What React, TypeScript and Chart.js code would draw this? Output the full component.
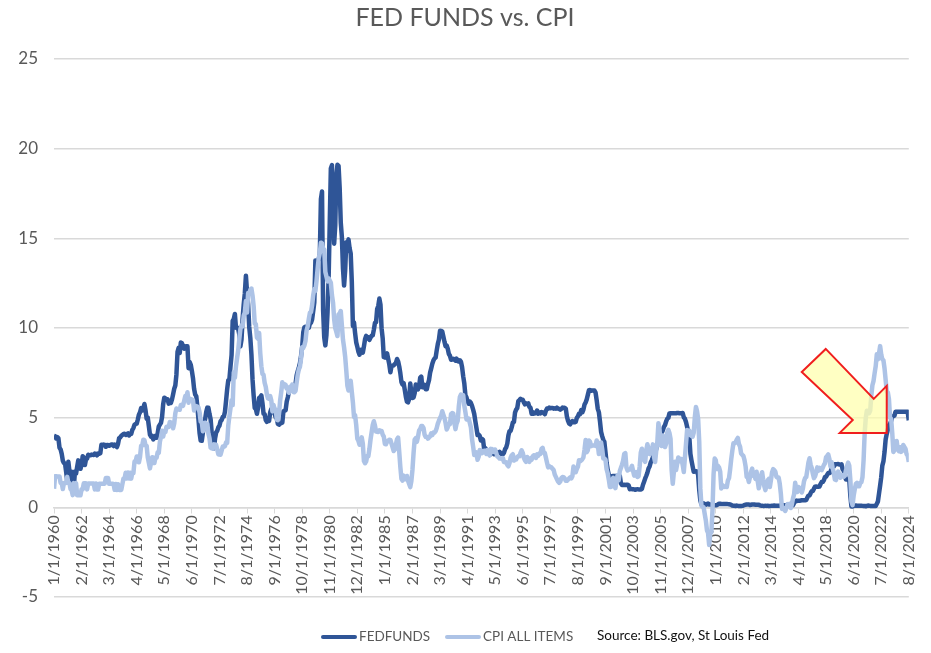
import React, { useEffect, useRef } from 'react';
import { Chart, registerables } from 'chart.js';

Chart.register(...registerables);

const TITLE = 'FED FUNDS vs. CPI';
const SERIES_NAMES = ['FEDFUNDS', 'CPI ALL ITEMS'];
const SOURCE_NOTE = 'Source: BLS.gov, St Louis Fed';
const START_YEAR = 1960;
const LABEL_EVERY_MONTHS = 25;
const Y_MIN = -5;
const Y_MAX = 25;
const Y_STEP = 5;

// Monthly effective fed funds rate, Jan 1960 .. Aug 2024 (one row per year)
const FEDFUNDS: number[] = [
  3.99, 3.97, 3.84, 3.92, 3.85, 3.32, 3.23, 2.98, 2.6, 2.47, 2.44, 1.98,
  1.45, 2.54, 2.02, 1.49, 1.98, 1.73, 1.17, 2.0, 1.88, 2.26, 2.62, 2.33,
  2.15, 2.37, 2.85, 2.78, 2.36, 2.68, 2.71, 2.93, 2.9, 2.9, 2.94, 2.93,
  2.92, 3.0, 2.98, 2.9, 3.0, 2.99, 3.02, 3.49, 3.48, 3.5, 3.48, 3.38,
  3.48, 3.48, 3.43, 3.47, 3.5, 3.5, 3.42, 3.5, 3.45, 3.36, 3.52, 3.85,
  3.9, 3.98, 4.04, 4.09, 4.1, 4.04, 4.09, 4.12, 4.01, 4.08, 4.1, 4.32,
  4.42, 4.6, 4.65, 4.67, 4.9, 5.17, 5.3, 5.53, 5.4, 5.53, 5.76, 5.4,
  4.94, 5.0, 4.53, 4.05, 3.94, 3.98, 3.79, 3.9, 3.99, 3.88, 4.13, 4.51,
  4.61, 4.71, 5.05, 5.76, 6.11, 6.07, 6.02, 6.03, 5.78, 5.91, 5.82, 6.02,
  6.3, 6.61, 6.79, 7.41, 8.67, 8.9, 8.61, 9.19, 9.15, 9.0, 8.85, 8.97,
  8.98, 8.98, 7.76, 8.1, 7.95, 7.61, 7.21, 6.61, 6.29, 6.2, 5.6, 4.9,
  4.14, 3.72, 3.71, 4.16, 4.63, 4.91, 5.31, 5.56, 5.55, 5.2, 4.91, 4.14,
  3.5, 3.29, 3.83, 4.17, 4.27, 4.46, 4.55, 4.8, 4.87, 5.04, 5.06, 5.33,
  5.94, 6.58, 7.09, 7.12, 7.84, 8.49, 10.4, 10.5, 10.78, 10.01, 10.03, 9.95,
  9.65, 8.97, 9.35, 10.51, 11.31, 11.93, 12.92, 12.01, 11.34, 10.06, 9.45, 8.53,
  7.13, 6.24, 5.54, 5.49, 5.22, 5.55, 6.1, 6.14, 6.24, 5.82, 5.22, 5.2,
  4.87, 4.77, 4.84, 4.82, 5.29, 5.48, 5.31, 5.29, 5.25, 5.02, 4.95, 4.65,
  4.61, 4.68, 4.69, 4.73, 5.35, 5.39, 5.42, 5.9, 6.14, 6.47, 6.51, 6.56,
  6.7, 6.78, 6.79, 6.89, 7.36, 7.6, 7.81, 8.04, 8.45, 8.96, 9.76, 10.03,
  10.07, 10.06, 10.09, 10.01, 10.24, 10.29, 10.47, 10.94, 11.43, 13.77, 13.18, 13.78,
  13.82, 14.13, 17.19, 17.61, 10.98, 9.47, 9.03, 9.61, 10.87, 12.81, 15.85, 18.9,
  19.08, 15.93, 14.7, 15.72, 18.52, 19.1, 19.04, 17.82, 15.87, 15.08, 13.31, 12.37,
  13.22, 14.78, 14.68, 14.94, 14.45, 14.15, 12.59, 10.12, 10.31, 9.71, 9.2, 8.95,
  8.68, 8.51, 8.77, 8.8, 8.63, 8.98, 9.37, 9.56, 9.45, 9.48, 9.34, 9.47,
  9.56, 9.59, 9.91, 10.29, 10.32, 11.06, 11.23, 11.64, 11.3, 9.99, 9.43, 8.38,
  8.35, 8.5, 8.58, 8.27, 7.97, 7.53, 7.88, 7.9, 7.92, 7.99, 8.05, 8.27,
  8.14, 7.86, 7.48, 6.99, 6.85, 6.92, 6.56, 6.17, 5.89, 5.85, 6.04, 6.91,
  6.43, 6.1, 6.13, 6.37, 6.85, 6.73, 6.58, 6.73, 7.22, 7.29, 6.69, 6.77,
  6.83, 6.58, 6.58, 6.87, 7.09, 7.51, 7.75, 8.01, 8.19, 8.3, 8.35, 8.76,
  9.12, 9.36, 9.85, 9.84, 9.81, 9.53, 9.24, 8.99, 9.02, 8.84, 8.55, 8.45,
  8.23, 8.24, 8.28, 8.26, 8.18, 8.29, 8.15, 8.13, 8.2, 8.11, 7.81, 7.31,
  6.91, 6.25, 6.12, 5.91, 5.78, 5.9, 5.82, 5.66, 5.45, 5.21, 4.81, 4.43,
  4.03, 4.06, 3.98, 3.73, 3.82, 3.76, 3.25, 3.3, 3.22, 3.1, 3.09, 2.92,
  3.02, 3.03, 3.07, 2.96, 3.0, 3.04, 3.06, 3.03, 3.09, 2.99, 3.02, 2.96,
  3.05, 3.25, 3.34, 3.56, 4.01, 4.25, 4.26, 4.47, 4.73, 4.76, 5.29, 5.45,
  5.53, 5.92, 5.98, 6.05, 6.01, 6.0, 5.85, 5.74, 5.8, 5.76, 5.8, 5.6,
  5.56, 5.22, 5.31, 5.22, 5.24, 5.27, 5.4, 5.22, 5.3, 5.24, 5.31, 5.29,
  5.25, 5.19, 5.39, 5.51, 5.5, 5.56, 5.52, 5.54, 5.54, 5.5, 5.52, 5.5,
  5.56, 5.51, 5.49, 5.45, 5.49, 5.56, 5.54, 5.55, 5.51, 5.07, 4.83, 4.68,
  4.63, 4.76, 4.81, 4.74, 4.74, 4.76, 4.99, 5.07, 5.22, 5.2, 5.42, 5.3,
  5.45, 5.73, 5.85, 6.02, 6.27, 6.53, 6.54, 6.5, 6.52, 6.51, 6.51, 6.4,
  5.98, 5.49, 5.31, 4.8, 4.21, 3.97, 3.77, 3.65, 3.07, 2.49, 2.09, 1.82,
  1.73, 1.74, 1.73, 1.75, 1.75, 1.75, 1.73, 1.74, 1.75, 1.75, 1.34, 1.24,
  1.24, 1.26, 1.25, 1.26, 1.26, 1.22, 1.01, 1.03, 1.01, 1.01, 1.0, 0.98,
  1.0, 1.01, 1.0, 1.0, 1.0, 1.03, 1.26, 1.43, 1.61, 1.76, 1.93, 2.16,
  2.28, 2.5, 2.63, 2.79, 3.0, 3.04, 3.26, 3.5, 3.62, 3.78, 4.0, 4.16,
  4.29, 4.49, 4.59, 4.79, 4.94, 4.99, 5.24, 5.25, 5.25, 5.25, 5.25, 5.24,
  5.25, 5.26, 5.26, 5.25, 5.25, 5.25, 5.26, 5.02, 4.94, 4.76, 4.49, 4.24,
  3.94, 2.98, 2.61, 2.28, 1.98, 2.0, 2.01, 2.0, 1.81, 0.97, 0.39, 0.16,
  0.15, 0.22, 0.18, 0.15, 0.18, 0.21, 0.16, 0.16, 0.15, 0.12, 0.12, 0.12,
  0.11, 0.13, 0.16, 0.2, 0.2, 0.18, 0.18, 0.19, 0.19, 0.19, 0.19, 0.18,
  0.17, 0.16, 0.14, 0.1, 0.09, 0.09, 0.07, 0.1, 0.08, 0.07, 0.08, 0.07,
  0.08, 0.1, 0.13, 0.14, 0.16, 0.16, 0.16, 0.13, 0.14, 0.16, 0.16, 0.16,
  0.14, 0.15, 0.14, 0.15, 0.11, 0.09, 0.09, 0.08, 0.08, 0.09, 0.08, 0.09,
  0.07, 0.07, 0.08, 0.09, 0.09, 0.1, 0.09, 0.09, 0.09, 0.09, 0.09, 0.12,
  0.11, 0.11, 0.11, 0.12, 0.12, 0.13, 0.13, 0.14, 0.14, 0.12, 0.12, 0.24,
  0.34, 0.38, 0.36, 0.37, 0.37, 0.38, 0.39, 0.4, 0.4, 0.4, 0.41, 0.54,
  0.65, 0.66, 0.79, 0.9, 0.91, 1.04, 1.15, 1.16, 1.15, 1.15, 1.16, 1.3,
  1.41, 1.42, 1.51, 1.69, 1.7, 1.82, 1.91, 1.91, 1.95, 2.19, 2.2, 2.27,
  2.4, 2.4, 2.41, 2.42, 2.39, 2.38, 2.4, 2.13, 2.04, 1.83, 1.55, 1.55,
  1.55, 1.58, 0.65, 0.05, 0.05, 0.08, 0.09, 0.1, 0.09, 0.09, 0.09, 0.09,
  0.09, 0.08, 0.07, 0.07, 0.06, 0.08, 0.1, 0.09, 0.08, 0.08, 0.08, 0.08,
  0.08, 0.08, 0.2, 0.33, 0.77, 1.21, 1.68, 2.33, 2.56, 3.08, 3.78, 4.1,
  4.33, 4.57, 4.65, 4.83, 5.06, 5.08, 5.12, 5.33, 5.33, 5.33, 5.33, 5.33,
  5.33, 5.33, 5.33, 5.33, 5.33, 5.33, 5.33, 4.85,
];

// Monthly CPI all items, % change from a year earlier, Jan 1960 .. Aug 2024
const CPI_ALL_ITEMS: number[] = [
  1.03, 1.73, 1.73, 1.72, 1.72, 1.72, 1.37, 1.37, 1.02, 1.36, 1.36, 1.36,
  1.7, 1.36, 1.36, 1.02, 0.95, 0.68, 1.35, 1.01, 1.35, 0.67, 0.67, 0.67,
  0.67, 1.01, 1.01, 1.34, 1.34, 1.34, 1.0, 1.33, 1.33, 1.33, 1.33, 1.33,
  1.33, 1.0, 1.33, 0.99, 0.99, 1.32, 1.32, 1.32, 1.32, 1.32, 1.32, 1.64,
  1.64, 1.64, 1.31, 1.31, 1.31, 1.31, 1.3, 0.98, 1.3, 0.97, 1.29, 0.97,
  0.97, 0.97, 1.29, 1.61, 1.61, 1.93, 1.61, 1.94, 1.61, 1.93, 1.6, 1.92,
  1.91, 2.55, 2.54, 2.84, 2.83, 2.51, 2.82, 3.44, 3.45, 3.77, 3.75, 3.45,
  3.43, 2.79, 2.48, 2.17, 2.49, 2.79, 2.78, 2.47, 2.77, 2.76, 3.07, 3.04,
  3.65, 3.94, 4.27, 3.95, 4.24, 4.2, 4.49, 4.49, 4.48, 4.76, 4.73, 4.72,
  4.41, 4.67, 5.25, 5.51, 5.47, 5.46, 5.44, 5.71, 5.7, 5.66, 5.93, 6.2,
  6.16, 6.42, 5.83, 6.06, 6.04, 6.01, 5.98, 5.4, 5.66, 5.64, 5.62, 5.57,
  5.29, 4.78, 4.75, 4.24, 4.49, 4.72, 4.42, 4.66, 4.11, 3.85, 3.33, 3.29,
  3.27, 3.51, 3.5, 3.48, 3.23, 2.96, 2.94, 2.93, 3.16, 3.39, 3.38, 3.41,
  3.62, 3.6, 4.56, 5.06, 5.51, 5.97, 5.7, 7.53, 7.23, 7.87, 8.32, 8.75,
  9.39, 9.94, 10.15, 10.09, 10.7, 10.86, 11.51, 10.86, 11.95, 11.93, 12.13, 12.2,
  11.81, 11.23, 10.25, 10.21, 9.47, 9.4, 9.72, 8.6, 7.87, 7.44, 7.38, 6.94,
  6.72, 6.29, 6.07, 6.05, 6.2, 5.97, 5.35, 5.71, 5.49, 5.46, 4.88, 4.86,
  5.21, 5.95, 6.42, 6.97, 6.75, 6.87, 6.83, 6.62, 6.6, 6.39, 6.72, 6.7,
  6.84, 6.43, 6.42, 6.5, 6.97, 7.41, 7.7, 7.84, 8.31, 8.93, 8.89, 9.02,
  9.28, 9.86, 10.09, 10.49, 10.85, 10.89, 11.26, 11.82, 12.18, 12.07, 12.62, 13.29,
  13.91, 14.18, 14.76, 14.73, 14.41, 14.38, 13.13, 12.87, 12.6, 12.77, 12.65, 12.52,
  11.83, 11.41, 10.49, 9.99, 9.78, 9.55, 10.76, 10.8, 10.95, 10.14, 9.35, 8.92,
  8.39, 7.62, 6.78, 6.51, 6.68, 7.06, 6.44, 5.85, 5.04, 5.14, 4.59, 3.83,
  3.71, 3.49, 3.6, 3.9, 3.55, 2.58, 2.46, 2.56, 2.86, 2.85, 3.27, 3.79,
  4.19, 4.6, 4.8, 4.56, 4.23, 4.22, 4.2, 4.29, 4.27, 4.26, 4.05, 3.95,
  3.53, 3.52, 3.7, 3.69, 3.77, 3.76, 3.55, 3.35, 3.14, 3.23, 3.51, 3.8,
  3.89, 3.11, 2.26, 1.59, 1.49, 1.77, 1.58, 1.57, 1.75, 1.48, 1.3, 1.13,
  1.46, 2.1, 3.03, 3.78, 3.86, 3.65, 3.93, 4.28, 4.37, 4.53, 4.53, 4.43,
  4.05, 3.93, 3.93, 3.83, 3.9, 3.96, 4.13, 4.03, 4.17, 4.17, 4.25, 4.42,
  4.67, 4.83, 4.98, 5.11, 5.36, 5.17, 4.98, 4.71, 4.34, 4.47, 4.66, 4.64,
  5.2, 5.26, 5.23, 4.71, 4.36, 4.67, 4.82, 5.62, 6.16, 6.29, 6.27, 6.25,
  5.67, 5.31, 4.9, 4.89, 4.95, 4.7, 4.45, 3.8, 3.39, 2.92, 2.99, 3.06,
  2.65, 2.82, 3.19, 3.18, 3.02, 3.09, 3.15, 3.15, 2.98, 3.2, 3.05, 2.9,
  3.26, 3.25, 3.09, 3.21, 3.22, 3.02, 2.83, 2.8, 2.72, 2.74, 2.69, 2.75,
  2.52, 2.51, 2.51, 2.36, 2.29, 2.47, 2.77, 2.9, 2.96, 2.61, 2.67, 2.67,
  2.8, 2.86, 2.85, 3.05, 3.18, 3.04, 2.76, 2.62, 2.54, 2.81, 2.61, 2.54,
  2.73, 2.65, 2.84, 2.9, 2.89, 2.75, 2.95, 2.88, 3.0, 2.98, 3.26, 3.32,
  3.04, 3.03, 2.76, 2.49, 2.23, 2.3, 2.23, 2.23, 2.15, 2.08, 1.83, 1.7,
  1.57, 1.44, 1.37, 1.44, 1.63, 1.69, 1.68, 1.62, 1.48, 1.48, 1.54, 1.61,
  1.67, 1.61, 1.73, 2.28, 2.09, 1.96, 2.14, 2.26, 2.63, 2.56, 2.62, 2.68,
  2.79, 3.22, 3.76, 3.07, 3.19, 3.73, 3.66, 3.41, 3.45, 3.45, 3.45, 3.43,
  3.73, 3.53, 2.98, 3.22, 3.62, 3.25, 2.72, 2.72, 2.65, 2.13, 1.9, 1.55,
  1.14, 1.14, 1.48, 1.64, 1.18, 1.07, 1.46, 1.8, 1.51, 2.03, 2.2, 2.38,
  2.6, 2.98, 3.02, 2.22, 2.06, 2.11, 2.11, 2.16, 2.32, 2.04, 1.77, 1.88,
  1.97, 1.69, 1.74, 2.29, 3.05, 3.27, 2.99, 2.65, 2.54, 3.19, 3.52, 3.26,
  2.97, 3.01, 3.15, 3.51, 2.8, 2.53, 3.14, 3.64, 4.69, 4.35, 3.46, 3.42,
  4.0, 3.6, 3.36, 3.55, 4.17, 4.32, 4.15, 3.82, 2.06, 1.31, 1.97, 2.54,
  2.08, 2.42, 2.78, 2.57, 2.69, 2.69, 2.36, 1.97, 2.76, 3.54, 4.31, 4.08,
  4.28, 4.03, 3.98, 3.94, 4.17, 5.02, 5.6, 5.37, 4.94, 3.66, 1.07, 0.09,
  0.03, 0.0, -0.38, -0.74, -1.28, -1.43, -2.1, -1.48, -1.38, -0.18, 1.84, 2.72,
  2.63, 2.14, 2.31, 2.22, 1.99, 1.05, 1.24, 1.15, 1.14, 1.17, 1.14, 1.5,
  1.63, 2.11, 2.68, 3.16, 3.57, 3.56, 3.63, 3.77, 3.87, 3.53, 3.39, 3.0,
  2.93, 2.87, 2.65, 2.3, 1.7, 1.66, 1.41, 1.69, 1.99, 2.16, 1.76, 1.74,
  1.59, 1.98, 1.47, 1.06, 1.36, 1.75, 1.96, 1.52, 1.18, 0.96, 1.24, 1.5,
  1.58, 1.13, 1.51, 1.95, 2.13, 2.07, 1.99, 1.7, 1.66, 1.66, 1.32, 0.76,
  -0.09, -0.03, -0.07, -0.2, -0.04, 0.18, 0.17, 0.2, -0.04, 0.17, 0.5, 0.73,
  1.37, 1.02, 0.86, 1.13, 1.02, 1.07, 0.83, 1.06, 1.46, 1.64, 1.69, 2.07,
  2.5, 2.74, 2.38, 2.2, 1.87, 1.63, 1.73, 1.94, 2.23, 2.04, 2.2, 2.11,
  2.07, 2.21, 2.36, 2.46, 2.8, 2.87, 2.95, 2.7, 2.28, 2.52, 2.18, 1.91,
  1.55, 1.52, 1.86, 2.0, 1.79, 1.65, 1.81, 1.75, 1.71, 1.76, 2.05, 2.29,
  2.49, 2.33, 1.54, 0.33, 0.12, 0.65, 1.0, 1.31, 1.37, 1.18, 1.17, 1.36,
  1.4, 1.68, 2.62, 4.16, 4.99, 5.39, 5.37, 5.25, 5.39, 6.22, 6.81, 7.04,
  7.48, 7.87, 8.54, 8.26, 8.58, 8.99, 8.52, 8.26, 8.2, 7.75, 7.11, 6.45,
  6.41, 6.04, 4.99, 4.93, 4.13, 3.09, 3.18, 3.67, 3.7, 3.24, 3.14, 3.35,
  3.09, 3.15, 3.48, 3.36, 3.27, 2.97, 2.89, 2.53,
];

// Callout arrow: tip anchored at this month index / value
const ARROW_TIP_MONTH = 755;
const ARROW_TIP_VALUE = 4.15;

const MONTH_LABELS: string[] = FEDFUNDS.map((_, i) => {
  const year = START_YEAR + Math.floor(i / 12);
  const month = (i % 12) + 1;
  return `${month}/1/${year}`;
});

const FF_COLOR = '#2F5597';
const CPI_COLOR = '#ADC3E6';
const GRID_COLOR = '#D9D9D9';
const TEXT_COLOR = '#595959';
const FONT = 'Lato, "Open Sans", sans-serif';

const decorPlugin = {
  id: 'decor',
  afterDatasetsDraw(chart: any) {
    const { ctx } = chart;
    const xs = chart.scales.x;
    const ys = chart.scales.y;
    const tx = xs.getPixelForValue(ARROW_TIP_MONTH);
    const ty = ys.getPixelForValue(ARROW_TIP_VALUE);
    const pts = [
      [-61, -84],
      [-13, -34],
      [0, -47],
      [0, 0],
      [-47, 0],
      [-34, -13],
      [-85, -61],
    ];
    ctx.save();
    ctx.beginPath();
    pts.forEach(([dx, dy], i) => {
      if (i === 0) ctx.moveTo(tx + dx, ty + dy);
      else ctx.lineTo(tx + dx, ty + dy);
    });
    ctx.closePath();
    ctx.fillStyle = 'rgba(255, 255, 170, 0.7)';
    ctx.fill();
    ctx.strokeStyle = '#F01E1E';
    ctx.lineWidth = 2;
    ctx.lineJoin = 'miter';
    ctx.stroke();
    ctx.restore();
  },
  afterDraw(chart: any) {
    const { ctx } = chart;
    ctx.save();
    // title
    ctx.fillStyle = TEXT_COLOR;
    ctx.font = `25px ${FONT}`;
    ctx.textAlign = 'center';
    ctx.textBaseline = 'middle';
    ctx.fillText(TITLE, 465, 18);

    // legend
    const ly = 637;
    const sampleStarts = [321, 445];
    ctx.textAlign = 'left';
    ctx.font = `13.5px ${FONT}`;
    chart.data.datasets.forEach((ds: any, i: number) => {
      const x = sampleStarts[i];
      ctx.strokeStyle = ds.borderColor;
      ctx.lineWidth = 4;
      ctx.lineCap = 'round';
      ctx.beginPath();
      ctx.moveTo(x + 2, ly);
      ctx.lineTo(x + 34, ly);
      ctx.stroke();
      ctx.fillStyle = TEXT_COLOR;
      ctx.fillText(ds.label, x + 38, ly);
    });
    ctx.fillStyle = '#111111';
    ctx.font = `13.5px ${FONT}`;
    ctx.fillText(SOURCE_NOTE, 597, ly - 1);
    ctx.restore();
  },
};

export default function App() {
  const canvasRef = useRef<HTMLCanvasElement>(null);

  useEffect(() => {
    const canvas = canvasRef.current;
    if (!canvas) return;
    const chart = new Chart(canvas, {
      type: 'line',
      data: {
        datasets: [
          {
            label: SERIES_NAMES[0],
            data: FEDFUNDS.map((v, i) => ({ x: i, y: v })),
            borderColor: FF_COLOR,
            backgroundColor: FF_COLOR,
            borderWidth: 4.5,
            pointRadius: 0,
            tension: 0,
            order: 1,
            borderJoinStyle: 'round',
          },
          {
            label: SERIES_NAMES[1],
            data: CPI_ALL_ITEMS.map((v, i) => ({ x: i, y: v })),
            borderColor: CPI_COLOR,
            backgroundColor: CPI_COLOR,
            borderWidth: 4.5,
            pointRadius: 0,
            tension: 0,
            order: 0,
            borderJoinStyle: 'round',
          },
        ],
      },
      options: {
        responsive: false,
        animation: false,
        events: [],
        layout: { padding: { top: 59, bottom: 56, left: 0, right: 15 } },
        plugins: {
          legend: { display: false },
          title: { display: false },
          tooltip: { enabled: false },
        },
        scales: {
          x: {
            type: 'linear',
            min: 0,
            max: FEDFUNDS.length - 1,
            position: { y: 0 },
            grid: {
              drawOnChartArea: false,
              drawTicks: true,
              tickLength: 5,
              color: GRID_COLOR,
            },
            border: { display: true, color: GRID_COLOR, width: 1.5 },
            ticks: {
              stepSize: LABEL_EVERY_MONTHS,
              autoSkip: false,
              minRotation: 90,
              maxRotation: 90,
              padding: 3,
              color: TEXT_COLOR,
              font: { family: FONT, size: 16 },
              callback: (v: any) => MONTH_LABELS[Math.round(Number(v))] ?? '',
            },
          },
          y: {
            min: Y_MIN,
            max: Y_MAX,
            grid: { color: GRID_COLOR, drawTicks: false, lineWidth: 1.5 },
            border: { display: false },
            ticks: {
              stepSize: Y_STEP,
              padding: 16,
              color: TEXT_COLOR,
              font: { family: FONT, size: 17 },
            },
            afterFit: (scale: any) => {
              scale.width = 54;
            },
          },
        },
      },
      plugins: [decorPlugin],
    });
    return () => chart.destroy();
  }, []);

  return (
    <div style={{ position: 'fixed', left: 0, top: 0, width: 931, height: 653, background: '#ffffff' }}>
      <canvas ref={canvasRef} width={931} height={653} style={{ display: 'block' }} />
    </div>
  );
}
